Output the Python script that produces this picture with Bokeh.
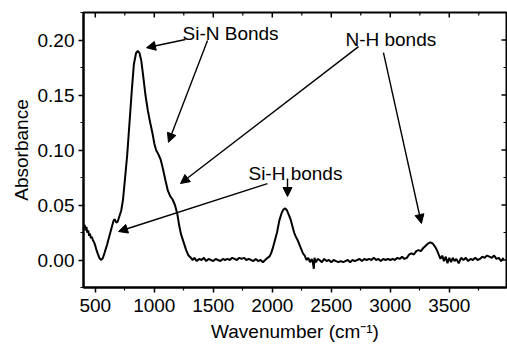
from math import pi
from bokeh.plotting import figure
from bokeh.models import (FixedTicker, PrintfTickFormatter, Arrow, NormalHead, Label,
                          ColumnDataSource)
from bokeh.embed import file_html
from bokeh.resources import INLINE

# ---- data ----
wavenumber = [400, 410, 418, 425, 432, 440, 448, 455, 462, 470, 480, 490, 500, 510, 520, 530,
              540, 551, 565, 580, 600, 620, 640, 655, 665, 678, 690, 705, 720, 735, 750, 770,
              790, 810, 827, 845, 860, 875, 890, 905, 925, 945, 965, 985, 1000, 1015, 1035,
              1055, 1075, 1095, 1115, 1135, 1155, 1175, 1195, 1210, 1225, 1240, 1255, 1270,
              1290, 1310, 1325, 1340, 1360, 1380, 1400, 1420, 1440, 1460, 1480, 1500, 1520,
              1540, 1560, 1580, 1600, 1620, 1640, 1660, 1680, 1700, 1720, 1740, 1760, 1780,
              1800, 1820, 1840, 1860, 1880, 1900, 1920, 1940, 1960, 1975, 1990, 2005, 2020,
              2040, 2060, 2080, 2095, 2110, 2125, 2140, 2155, 2170, 2185, 2200, 2215, 2230,
              2245, 2260, 2275, 2290, 2305, 2320, 2335, 2345, 2352, 2358, 2370, 2385, 2400,
              2420, 2440, 2460, 2480, 2500, 2520, 2540, 2560, 2580, 2600, 2620, 2640, 2660,
              2680, 2700, 2720, 2740, 2760, 2780, 2800, 2820, 2840, 2860, 2880, 2900, 2920,
              2940, 2960, 2980, 3000, 3020, 3040, 3060, 3080, 3100, 3120, 3140, 3160, 3180,
              3200, 3220, 3240, 3260, 3280, 3300, 3320, 3340, 3360, 3380, 3395, 3410, 3425,
              3440, 3455, 3470, 3485, 3500, 3515, 3530, 3545, 3560, 3580, 3600, 3620, 3640,
              3660, 3680, 3700, 3720, 3740, 3760, 3780, 3800, 3820, 3840, 3860, 3880, 3900,
              3920, 3940, 3960]
absorbance = [0.030, 0.032, 0.027, 0.030, 0.025, 0.027, 0.022, 0.024, 0.020, 0.021, 0.018,
              0.016, 0.013, 0.009, 0.006, 0.003, 0.001, 0.000, 0.002, 0.007, 0.014, 0.022,
              0.030, 0.036, 0.037, 0.034, 0.035, 0.040, 0.045, 0.055, 0.072, 0.095, 0.125,
              0.155, 0.178, 0.188, 0.190, 0.188, 0.181, 0.168, 0.150, 0.136, 0.125, 0.115,
              0.106, 0.100, 0.096, 0.091, 0.082, 0.072, 0.063, 0.058, 0.055, 0.050, 0.042,
              0.032, 0.024, 0.019, 0.014, 0.009, 0.004, 0.002, 0.000, 0.002, -0.001, 0.001,
              0.000, 0.002, -0.001, 0.001, 0.000, -0.001, 0.001, 0.000, -0.001, 0.001, 0.000,
              0.001, 0.000, 0.002, 0.001, 0.000, 0.002, 0.001, 0.002, 0.000, 0.001, 0.000,
              -0.001, 0.001, -0.001, 0.000, -0.002, 0.000, 0.002, 0.003, 0.006, 0.011, 0.017,
              0.025, 0.036, 0.043, 0.046, 0.047, 0.045, 0.041, 0.037, 0.031, 0.025, 0.021,
              0.018, 0.014, 0.010, 0.006, 0.004, 0.000, 0.002, -0.002, 0.001, -0.003, -0.008,
              0.002, -0.002, 0.001, 0.000, -0.002, 0.001, -0.001, 0.000, -0.002, 0.000,
              -0.001, -0.002, -0.001, -0.002, -0.001, 0.000, -0.002, 0.000, -0.001, 0.000,
              0.001, -0.001, 0.001, 0.000, 0.001, 0.000, 0.002, 0.000, 0.001, -0.001, 0.001,
              0.000, 0.001, 0.000, 0.001, 0.000, 0.002, 0.001, 0.003, 0.001, 0.002, 0.005,
              0.006, 0.005, 0.008, 0.009, 0.008, 0.011, 0.013, 0.015, 0.016, 0.015, 0.012,
              0.009, 0.005, 0.001, 0.004, -0.001, 0.003, -0.003, 0.002, -0.002, 0.002, -0.001,
              0.001, -0.003, 0.002, 0.000, 0.002, -0.001, 0.001, 0.000, 0.002, 0.000, 0.001,
              0.003, 0.002, 0.004, 0.003, 0.002, 0.004, 0.001, 0.002, -0.001, 0.002]

x_major_ticks = [500, 1000, 1500, 2000, 2500, 3000, 3500]
x_minor_ticks = [750, 1250, 1750, 2250, 2750, 3250, 3750]
y_major_ticks = [0.00, 0.05, 0.10, 0.15, 0.20]
y_minor_ticks = [-0.025, 0.025, 0.075, 0.125, 0.175, 0.225]

annotation_texts = ["Si-N Bonds", "N-H bonds", "Si-H bonds"]
annotation_x = [1239, 2620, 1798]
annotation_y = [0.206, 0.2005, 0.0786]

arrow_x_start = [1264, 1451, 2731, 2942, 1959, 2129]
arrow_y_start = [0.2005, 0.1995, 0.194, 0.1886, 0.0695, 0.0741]
arrow_x_end = [934, 1120, 1222, 3264, 697, 2129]
arrow_y_end = [0.193, 0.107, 0.0695, 0.0332, 0.0259, 0.0577]

X_START, X_END = 400, 3985
Y_START, Y_END = -0.025, 0.225
FONT = "Liberation Sans"

p = figure(width=507, height=345, x_range=(X_START, X_END), y_range=(Y_START, Y_END),
           output_backend="svg", toolbar_location=None,
           min_border_left=83, min_border_right=1, min_border_top=12, min_border_bottom=58)
p.background_fill_color = "white"
p.border_fill_color = "white"
p.outline_line_color = "black"
p.outline_line_width = 2
p.grid.visible = False

src = ColumnDataSource(dict(x=wavenumber, y=absorbance))
p.line("x", "y", source=src, line_color="black", line_width=2)

xa = p.xaxis[0]
xa.ticker = FixedTicker(ticks=x_major_ticks, minor_ticks=x_minor_ticks)
xa.axis_label = "Wavenumber (cm⁻¹)"
ya = p.yaxis[0]
ya.ticker = FixedTicker(ticks=y_major_ticks, minor_ticks=y_minor_ticks)
ya.formatter = PrintfTickFormatter(format="%.2f")
ya.axis_label = "Absorbance"

for ax in (xa, ya):
    ax.axis_line_width = 2
    ax.axis_line_color = "black"
    ax.major_tick_in = 0
    ax.major_tick_out = 5
    ax.minor_tick_in = 0
    ax.minor_tick_out = 3
    ax.major_tick_line_width = 1.5
    ax.minor_tick_line_width = 1.2
    ax.major_label_text_font = FONT
    ax.major_label_text_color = "black"
    ax.axis_label_text_font = FONT
    ax.axis_label_text_font_style = "normal"
    ax.axis_label_text_color = "black"
ya.major_label_text_font_size = "19px"
ya.axis_label_text_font_size = "19px"
xa.major_label_text_font_size = "19px"
xa.axis_label_text_font_size = "19px"
xa.major_label_text_line_height = 0.8
xa.axis_label_text_line_height = 0.8
xa.major_label_standoff = 6
xa.axis_label_standoff = 6
ya.major_label_standoff = 4
ya.axis_label_standoff = 3

# inward mirror ticks on the top and right edges
p.ray(x=x_major_ticks, y=[Y_END] * len(x_major_ticks), length=5, length_units="screen",
      angle=-pi / 2, line_color="black", line_width=1.5)
p.ray(x=x_minor_ticks, y=[Y_END] * len(x_minor_ticks), length=3, length_units="screen",
      angle=-pi / 2, line_color="black", line_width=1.2)
p.ray(x=[X_END] * len(y_major_ticks), y=y_major_ticks, length=5, length_units="screen",
      angle=pi, line_color="black", line_width=1.5)
p.ray(x=[X_END] * len(y_minor_ticks), y=y_minor_ticks, length=3, length_units="screen",
      angle=pi, line_color="black", line_width=1.2)

for t, x, y in zip(annotation_texts, annotation_x, annotation_y):
    p.add_layout(Label(x=x, y=y, text=t, text_font=FONT, text_font_size="19px",
                       text_color="black", text_align="left", text_baseline="alphabetic"))

for xs, ys, xe, ye in zip(arrow_x_start, arrow_y_start, arrow_x_end, arrow_y_end):
    p.add_layout(Arrow(end=NormalHead(size=9, fill_color="black", line_color="black",
                                      line_width=1),
                       x_start=xs, y_start=ys, x_end=xe, y_end=ye,
                       line_color="black", line_width=1.4))

open("out.html", "w").write(file_html(p, INLINE))
